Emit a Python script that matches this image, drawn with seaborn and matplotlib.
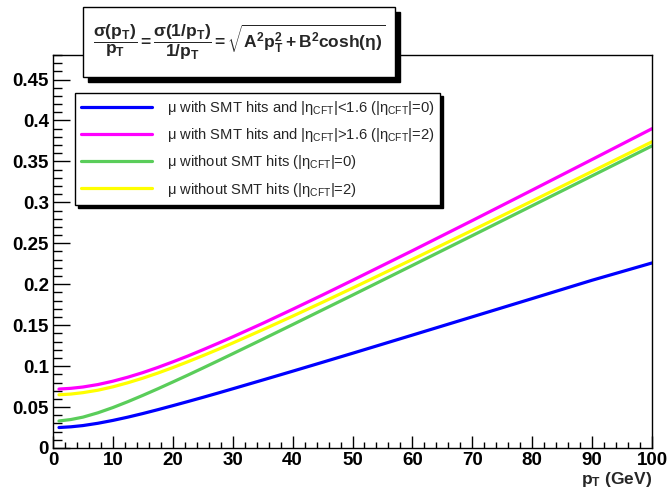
import numpy as np
import pandas as pd
import matplotlib
matplotlib.use("Agg")
import matplotlib.pyplot as plt
from matplotlib.patches import Rectangle
from matplotlib.ticker import MultipleLocator, FuncFormatter
import seaborn as sns

# ---- data ----
pt = [1, 3, 5, 7.5, 10, 12.5, 15, 17.5, 20, 22.5, 25, 27.5, 30, 35, 40, 45, 50, 60, 70, 80, 90, 100]
smt_central = [0.025, 0.0259, 0.0274, 0.0302, 0.0337, 0.0377, 0.0421, 0.0468, 0.0517, 0.0567, 0.0618, 0.0670,
               0.0723, 0.0830, 0.0938, 0.1047, 0.1157, 0.1379, 0.1602, 0.1825, 0.2049, 0.226]
smt_forward = [0.072, 0.0729, 0.0745, 0.0775, 0.0816, 0.0865, 0.0921, 0.0984, 0.1052, 0.1123, 0.1199, 0.1277,
               0.1357, 0.1522, 0.1694, 0.1869, 0.2048, 0.241, 0.2778, 0.315, 0.3524, 0.390]
nosmt_eta0 = [0.033, 0.0348, 0.0377, 0.0430, 0.0494, 0.0566, 0.0643, 0.0723, 0.0806, 0.0890, 0.0976, 0.1063,
              0.1151, 0.1328, 0.1507, 0.1687, 0.1867, 0.223, 0.2594, 0.2959, 0.3324, 0.369]
nosmt_eta2 = [0.065, 0.0659, 0.0676, 0.0706, 0.0747, 0.0797, 0.0853, 0.0915, 0.0982, 0.1053, 0.1127, 0.1203,
              0.1282, 0.1444, 0.161, 0.178, 0.1953, 0.2303, 0.2659, 0.3017, 0.3378, 0.374]

labels = [
    r"μ with SMT hits and |$\eta_{\mathrm{CFT}}$|<1.6 (|$\eta_{\mathrm{CFT}}$|=0)",
    r"μ with SMT hits and |$\eta_{\mathrm{CFT}}$|>1.6 (|$\eta_{\mathrm{CFT}}$|=2)",
    r"μ without SMT hits (|$\eta_{\mathrm{CFT}}$|=0)",
    r"μ without SMT hits (|$\eta_{\mathrm{CFT}}$|=2)",
]
colors = ["#0000ff", "#ff00ff", "#5acd5a", "#ffff00"]
series = [smt_central, smt_forward, nosmt_eta0, nosmt_eta2]
y_ticks = [0, 0.05, 0.1, 0.15, 0.2, 0.25, 0.3, 0.35, 0.4, 0.45]
x_ticks = [0, 10, 20, 30, 40, 50, 60, 70, 80, 90, 100]

df = pd.concat(
    [pd.DataFrame({"pt": pt, "val": s, "curve": lab}) for s, lab in zip(series, labels)],
    ignore_index=True,
)

sns.set_style("ticks")
plt.rcParams["font.family"] = ["Liberation Sans", "DejaVu Sans"]
plt.rcParams["mathtext.fontset"] = "custom"
plt.rcParams["mathtext.rm"] = "Liberation Sans"
plt.rcParams["mathtext.it"] = "Liberation Sans"
plt.rcParams["mathtext.bf"] = "Liberation Sans:bold"

W, H = 669, 492
fig = plt.figure(figsize=(W / 100, H / 100), dpi=100)
ax = fig.add_axes([53 / W, 1 - 448 / H, 599 / W, 393 / H])

sns.lineplot(data=df, x="pt", y="val", hue="curve", hue_order=labels,
             palette=dict(zip(labels, colors)), linewidth=2.3, ax=ax,
             estimator=None, sort=True)

ax.set_xlim(0, 100)
ax.set_ylim(0, 0.48)
ax.set_xticks(x_ticks)
ax.set_yticks(y_ticks)
ax.xaxis.set_minor_locator(MultipleLocator(2))
ax.yaxis.set_minor_locator(MultipleLocator(0.01))
ax.yaxis.set_major_formatter(FuncFormatter(lambda v, p: f"{v:g}"))
ax.tick_params(axis="both", which="both", direction="in", top=False, right=False,
               width=1, color="black", labelsize=13.5, labelcolor="black")
ax.tick_params(axis="x", which="major", length=8.5, pad=3)
ax.tick_params(axis="x", which="minor", length=4.2)
ax.tick_params(axis="y", which="major", length=12.5, pad=3)
ax.tick_params(axis="y", which="minor", length=6.2)
for lab in ax.get_xticklabels() + ax.get_yticklabels():
    lab.set_fontweight("bold")
for sp in ax.spines.values():
    sp.set_visible(True)
    sp.set_color("black")
    sp.set_linewidth(1.0)

ax.set_ylabel("")
ax.set_xlabel(r"$\mathbf{p_{T}}$ (GeV)", fontsize=12.5, fontweight="bold", loc="right", labelpad=0.5)

h, l = ax.get_legend_handles_labels()
leg = ax.legend(h, l, loc="upper left", bbox_to_anchor=(22 / 599, (448 - 93) / 393),
                borderaxespad=0, frameon=True, fancybox=False, edgecolor="black",
                framealpha=1, fontsize=10.6, handlelength=4.8, handletextpad=1.0,
                labelspacing=0.62, borderpad=0.42,
                shadow={"color": "black", "alpha": 1})
leg.get_frame().set_linewidth(1.0)
for line in leg.get_lines():
    line.set_linewidth(2.3)

# title formula box with shadow
x0, y0, x1, y1 = 83, 7, 395, 77
off = 5
fig.patches.append(Rectangle(((x0 + off) / W, 1 - (y1 + off) / H), (x1 - x0) / W, (y1 - y0) / H,
                             transform=fig.transFigure, facecolor="black", edgecolor="black", zorder=5))
fig.patches.append(Rectangle((x0 / W, 1 - y1 / H), (x1 - x0) / W, (y1 - y0) / H,
                             transform=fig.transFigure, facecolor="white", edgecolor="black",
                             linewidth=1.0, zorder=6))
fig.text((x0 + x1) / 2 / W, 1 - (y0 + y1) / 2 / H,
         r"$\mathbf{\dfrac{\sigma(p_{T})}{p_{T}} = \dfrac{\sigma(1/p_{T})}{1/p_{T}} = \sqrt{A^{2}p_{T}^{2} + B^{2}cosh(\eta)}}$",
         ha="center", va="center", fontsize=12.5, zorder=7)

fig.savefig("out.png", dpi=100)
